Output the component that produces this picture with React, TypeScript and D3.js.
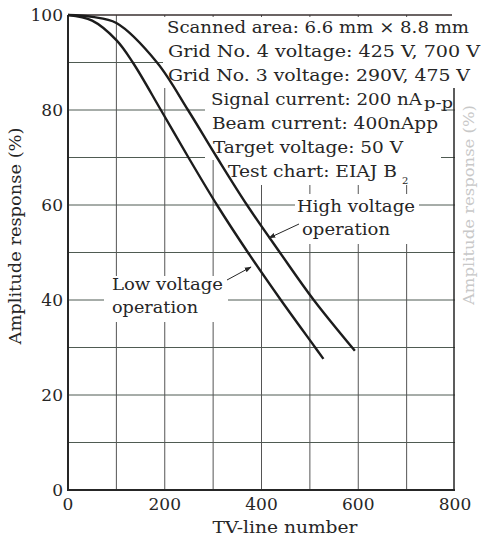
import { line, curveCatmullRom, scaleLinear } from "d3";

// TV-line number vs amplitude response (%)
const lowLines = [0, 50, 100, 134, 192, 249, 308, 372, 440, 511, 528];
const lowResp = [100, 98.8, 94.7, 90, 80, 70, 60, 50, 40, 30, 27.6];
const highLines = [0, 50, 100, 184, 248, 308, 370, 438, 508, 593];
const highResp = [100, 99.6, 98.3, 90, 80, 70, 60, 50, 40, 29.3];

const xTickLabels = [0, 200, 400, 600, 800];
const yTickLabels = [0, 20, 40, 60, 80, 100];
const xGrid = [100, 200, 300, 400, 500, 600, 700];
const yGrid = [10, 20, 30, 40, 50, 60, 70, 80, 90];

const conditions = [
    "Scanned area: 6.6 mm × 8.8 mm",
    "Grid No. 4 voltage: 425 V, 700 V",
    "Grid No. 3 voltage: 290V, 475 V",
    "Signal current: 200 nA",
    "Beam current: 400nApp",
    "Target voltage: 50 V",
    "Test chart: EIAJ B",
];
const conditionSubs = ["", "", "", "p-p", "", "", "2"];

const FONT = "'DejaVu Serif', serif";
const INK = "#262626";

export default function App() {
    const x = scaleLinear().domain([0, 800]).range([68, 455]);
    const y = scaleLinear().domain([0, 100]).range([490, 15]);

    const path = line<[number, number]>()
        .x(d => x(d[0]))
        .y(d => y(d[1]))
        .curve(curveCatmullRom.alpha(0.5));

    const low = lowLines.map((v, i) => [v, lowResp[i]] as [number, number]);
    const high = highLines.map((v, i) => [v, highResp[i]] as [number, number]);

    // where each condition line sits
    const condX = [167, 168, 168, 211, 212, 213, 228];
    const condEnd = [469, 480, 470, 422, 438, 403, 397];
    const condY = [33, 57, 81, 105, 129, 153, 177];

    const masks = [
        { x: 163, y: 17, w: 318, h: 71 },
        { x: 205, y: 88, w: 236, h: 72 },
        { x: 220, y: 160, w: 221, h: 25 },
        { x: 295, y: 194, w: 124, h: 50 },
        { x: 104, y: 276, w: 124, h: 46 },
    ];

    return (
        <svg width={481} height={541} style={{ position: "absolute", left: 0, top: 0, background: "#fff" }}
            fontFamily={FONT}>
            <defs>
                <marker id="arr" viewBox="0 0 10 10" refX="9" refY="5" markerWidth="7" markerHeight="7" orient="auto">
                    <path d="M0,1.5 L10,5 L0,8.5 Z" fill={INK} />
                </marker>
            </defs>
            <rect width={481} height={541} fill="#fff" />

            {/* grid */}
            {yGrid.map(v => (
                <line key={`h${v}`} x1={x(0)} x2={x(800)} y1={y(v)} y2={y(v)} stroke="#4f5b52" strokeWidth={1} />
            ))}
            {xGrid.map(v => (
                <line key={`v${v}`} x1={x(v)} x2={x(v)} y1={y(0)} y2={y(100)} stroke="#555" strokeWidth={1} />
            ))}

            {/* white behind the labels, as on the printed page */}
            {masks.map((m, i) => (
                <rect key={`m${i}`} x={m.x} y={m.y} width={m.w} height={m.h} fill="#fff" />
            ))}

            {/* frame */}
            <line x1={x(0)} x2={x(0)} y1={y(100)} y2={y(0) + 1} stroke={INK} strokeWidth={2} />
            <line x1={x(0)} x2={x(800)} y1={y(0)} y2={y(0)} stroke={INK} strokeWidth={2} />
            <line x1={x(0)} x2={452} y1={y(100)} y2={y(100)} stroke="#3a3030" strokeWidth={1.5} />
            <line x1={454} x2={454} y1={88} y2={y(0)} stroke={INK} strokeWidth={1.5} />

            {/* curves */}
            <path d={path(low) ?? ""} fill="none" stroke="#1c1c1c" strokeWidth={2.4} />
            <path d={path(high) ?? ""} fill="none" stroke="#1c1c1c" strokeWidth={2.4} />

            {/* arrows */}
            <line x1={227} y1={280} x2={251} y2={267} stroke={INK} strokeWidth={1} markerEnd="url(#arr)" />
            <line x1={299} y1={224} x2={269} y2={238} stroke={INK} strokeWidth={1} markerEnd="url(#arr)" />

            {/* curve labels */}
            <g fontSize={16} fill={INK}>
                <text x={112} y={290} textLength={111} lengthAdjust="spacingAndGlyphs">Low voltage</text>
                <text x={112} y={313} textLength={86} lengthAdjust="spacingAndGlyphs">operation</text>
                <text x={297} y={212} textLength={118} lengthAdjust="spacingAndGlyphs">High voltage</text>
                <text x={302} y={235} textLength={88} lengthAdjust="spacingAndGlyphs">operation</text>
            </g>

            {/* conditions */}
            <g fontSize={16} fill={INK}>
                {conditions.map((c, i) => (
                    <text key={c} x={condX[i]} y={condY[i]} textLength={condEnd[i] - condX[i]}
                        lengthAdjust="spacingAndGlyphs">{c}</text>
                ))}
                <text x={424} y={108} fontSize={14} textLength={29} lengthAdjust="spacingAndGlyphs">{conditionSubs[3]}</text>
                <text x={402} y={184} fontSize={10}>{conditionSubs[6]}</text>
            </g>

            {/* tick labels */}
            <g fontSize={17} fill={INK}>
                {yTickLabels.map(v => (
                    <text key={`yl${v}`} x={63} y={y(v)} dy="0.36em" textAnchor="end">{v}</text>
                ))}
                {xTickLabels.map(v => (
                    <text key={`xl${v}`} x={x(v)} y={510} textAnchor="middle">{v}</text>
                ))}
            </g>

            {/* axis titles */}
            <text x={285} y={533} fontSize={17} fill={INK} textAnchor="middle" textLength={145}
                lengthAdjust="spacingAndGlyphs">TV-line number</text>
            <text transform="translate(21,236) rotate(-90)" fontSize={17} fill={INK} textAnchor="middle"
                textLength={217} lengthAdjust="spacingAndGlyphs">Amplitude response (%)</text>

            {/* bleed-through from the facing page */}
            <text transform="translate(474,205) rotate(-90)" fontSize={15} fill="#c8c8c8" textAnchor="middle"
                textLength={200} lengthAdjust="spacingAndGlyphs">Amplitude response (%)</text>
        </svg>
    );
}
